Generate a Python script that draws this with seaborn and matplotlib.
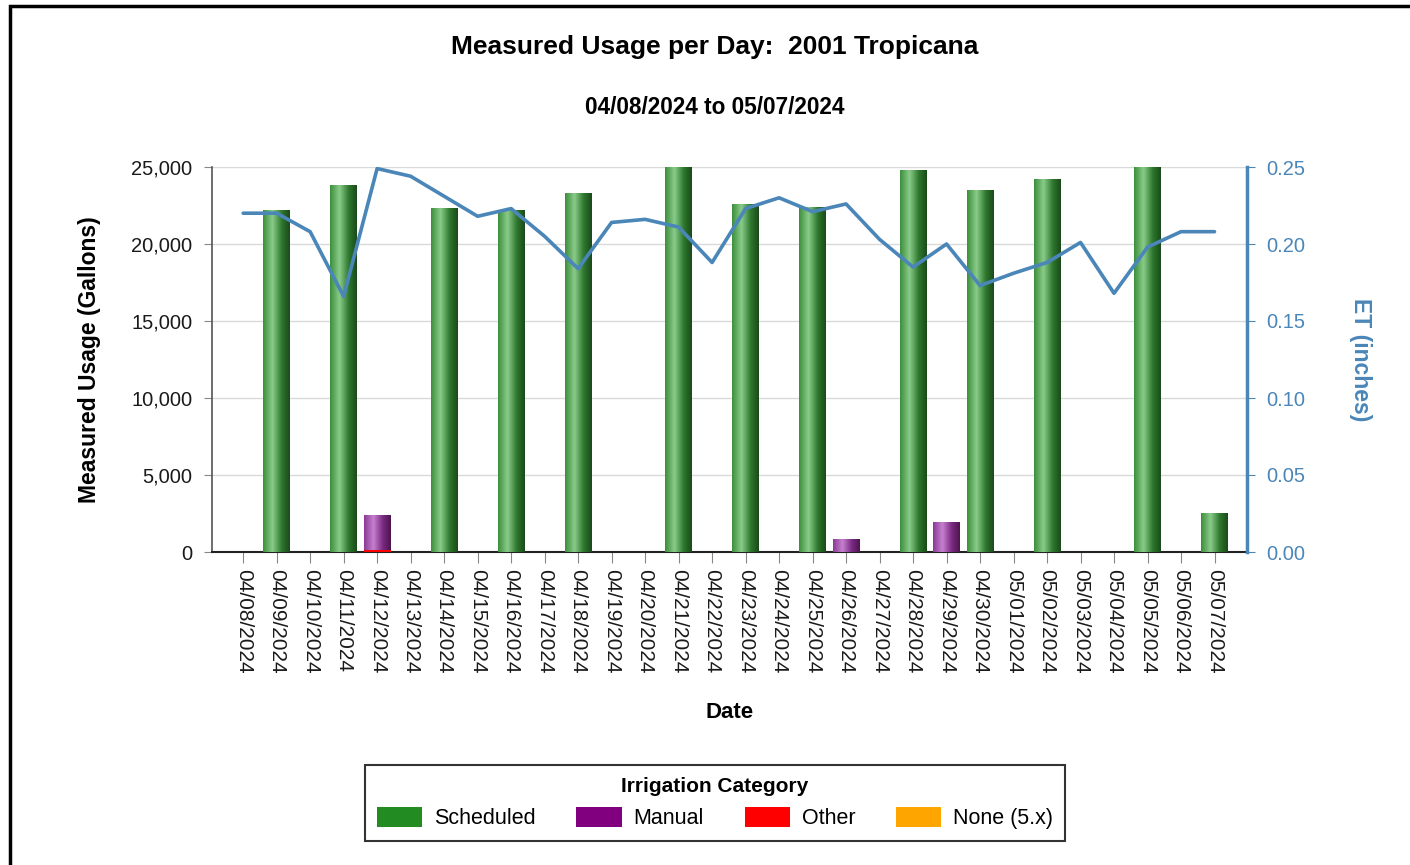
import numpy as np
import pandas as pd
import matplotlib
matplotlib.use("Agg")
import matplotlib.pyplot as plt
from matplotlib.colors import LinearSegmentedColormap
from matplotlib.patches import Patch, Rectangle
import seaborn as sns

dates = ["04/08/2024", "04/09/2024", "04/10/2024", "04/11/2024", "04/12/2024",
         "04/13/2024", "04/14/2024", "04/15/2024", "04/16/2024", "04/17/2024",
         "04/18/2024", "04/19/2024", "04/20/2024", "04/21/2024", "04/22/2024",
         "04/23/2024", "04/24/2024", "04/25/2024", "04/26/2024", "04/27/2024",
         "04/28/2024", "04/29/2024", "04/30/2024", "05/01/2024", "05/02/2024",
         "05/03/2024", "05/04/2024", "05/05/2024", "05/06/2024", "05/07/2024"]
scheduled = [0, 22200, 0, 23800, 0, 0, 22300, 0, 22200, 0,
             23300, 0, 0, 24950, 0, 22550, 0, 22350, 0, 0,
             24750, 0, 23500, 0, 24200, 0, 0, 24950, 0, 2500]
manual = [0, 0, 0, 0, 2250, 0, 0, 0, 0, 0,
          0, 0, 0, 0, 0, 0, 0, 0, 800, 0,
          0, 1900, 0, 0, 0, 0, 0, 0, 0, 0]
other = [0, 0, 0, 0, 150, 0, 0, 0, 0, 0,
         0, 0, 0, 0, 0, 0, 0, 0, 0, 0,
         0, 0, 0, 0, 0, 0, 0, 0, 0, 0]
none_5x = [0] * 30
et = [0.220, 0.220, 0.208, 0.166, 0.249, 0.244, 0.231, 0.218, 0.223, 0.205,
      0.184, 0.214, 0.216, 0.211, 0.188, 0.223, 0.230, 0.221, 0.226, 0.203,
      0.185, 0.200, 0.173, 0.181, 0.188, 0.201, 0.168, 0.198, 0.208, 0.208]

df = pd.DataFrame({"date": dates, "scheduled": scheduled, "manual": manual,
                   "other": other, "none": none_5x, "et": et})
df["manual_top"] = df["manual"] + df["other"]

sns.set_style("white")
plt.rcParams["font.family"] = ["Liberation Sans", "DejaVu Sans"]
plt.rcParams["text.color"] = "black"
plt.rcParams["axes.labelcolor"] = "black"

fig = plt.figure(figsize=(14.1, 8.65), dpi=100)
ax = fig.add_axes([212 / 1410, 1 - 552 / 865, (1247 - 212) / 1410, (552 - 167) / 865])

green_cmap = LinearSegmentedColormap.from_list(
    "g", [(0, "#3d8f3d"), (0.35, "#8acb8a"), (0.7, "#2e782e"), (1, "#1a4a1a")])
purple_cmap = LinearSegmentedColormap.from_list(
    "p", [(0, "#8a3a96"), (0.35, "#c680cf"), (0.7, "#7a2a82"), (1, "#4e154f")])
grad = np.linspace(0, 1, 64).reshape(1, -1)


def bars(col, color, cmap=None):
    n0 = len(ax.patches)
    sns.barplot(data=df, x="date", y=col, color=color, width=0.8, ax=ax,
                saturation=1, edgecolor="none", zorder=3)
    for p in ax.patches[n0:]:
        h = p.get_height()
        if cmap is None or h <= 0:
            continue
        x0, y0, w = p.get_x(), p.get_y(), p.get_width()
        ax.imshow(grad, extent=[x0, x0 + w, y0, y0 + h], aspect="auto",
                  cmap=cmap, zorder=3, interpolation="bilinear")
        p.set_visible(False)


bars("scheduled", "#228b22", green_cmap)
bars("manual_top", "#800080", purple_cmap)
bars("other", "#ff0000")

ax.set_xlim(-0.93, 29.97)
ax.set_ylim(0, 25000)
ax.set_yticks(range(0, 25001, 5000))
ax.set_yticklabels([f"{v:,}" for v in range(0, 25001, 5000)])
ax.grid(axis="y", color="#d9d9d9", lw=1, zorder=0)
ax.set_axisbelow(True)
for s in ["top", "right"]:
    ax.spines[s].set_visible(False)
ax.spines["left"].set_color("#555555")
ax.spines["bottom"].set_color("#222222")
ax.spines["left"].set_linewidth(1.2)
ax.spines["bottom"].set_linewidth(1.5)
ax.tick_params(axis="y", length=6, color="#888888", labelsize=14.5, pad=8,
               left=True, labelcolor="#1a1a1a")
ax.tick_params(axis="x", length=8, color="#888888", labelsize=15, pad=4,
               bottom=True, labelrotation=-90, labelcolor="#1a1a1a")
ax.set_xlabel("Date", fontsize=16, fontweight="bold", labelpad=21)
ax.set_ylabel("Measured Usage (Gallons)", fontsize=16.5, fontweight="bold", labelpad=22)

# ET line on the secondary axis
et_color = "#4a86b8"
ax2 = ax.twinx()
sns.lineplot(x=np.arange(len(dates)), y=df["et"], ax=ax2, color=et_color, lw=2.6)
ax2.set_ylim(0, 0.25)
ax2.set_yticks(np.arange(0, 0.2501, 0.05))
ax2.set_yticklabels([f"{v:.2f}" for v in np.arange(0, 0.2501, 0.05)])
for s in ["top", "left", "bottom"]:
    ax2.spines[s].set_visible(False)
ax2.spines["right"].set_color(et_color)
ax2.spines["right"].set_linewidth(2.5)
ax2.tick_params(axis="y", length=6, color=et_color, labelcolor=et_color,
                labelsize=14.5, pad=8, right=True)
ax2.set_ylabel("ET (inches)", fontsize=16.5, fontweight="bold", color=et_color,
               rotation=270, labelpad=48)
ax2.set_xlim(-0.93, 29.97)

fig.text(715 / 1410, 1 - 47 / 865, "Measured Usage per Day:  2001 Tropicana",
         ha="center", va="center", fontsize=19, fontweight="bold")
fig.text(715 / 1410, 1 - 107 / 865, "04/08/2024 to 05/07/2024",
         ha="center", va="center", fontsize=16.3, fontweight="bold")

handles = [Patch(facecolor=c, edgecolor="none") for c in
           ["#228b22", "#800080", "#ff0000", "#ffa500"]]
labels = ["Scheduled", "Manual", "Other", "None (5.x)"]
leg = fig.legend(handles, labels, title="Irrigation Category", ncol=4,
                 loc="center", bbox_to_anchor=(715 / 1410, 1 - 803 / 865),
                 frameon=True, fancybox=False, edgecolor="black",
                 handlelength=2.1, handleheight=1.1, handletextpad=0.55,
                 columnspacing=1.9, fontsize=15.5, borderpad=0.55,
                 title_fontproperties={"weight": "bold", "size": 15})
leg.get_frame().set_linewidth(1.5)

fig.patches.append(Rectangle((10 / 1410, -0.2), 1.2, 0.2 + (1 - 6 / 865), fill=False,
                             edgecolor="black", lw=2.5, transform=fig.transFigure,
                             figure=fig))

fig.savefig("out.png", dpi=100)
